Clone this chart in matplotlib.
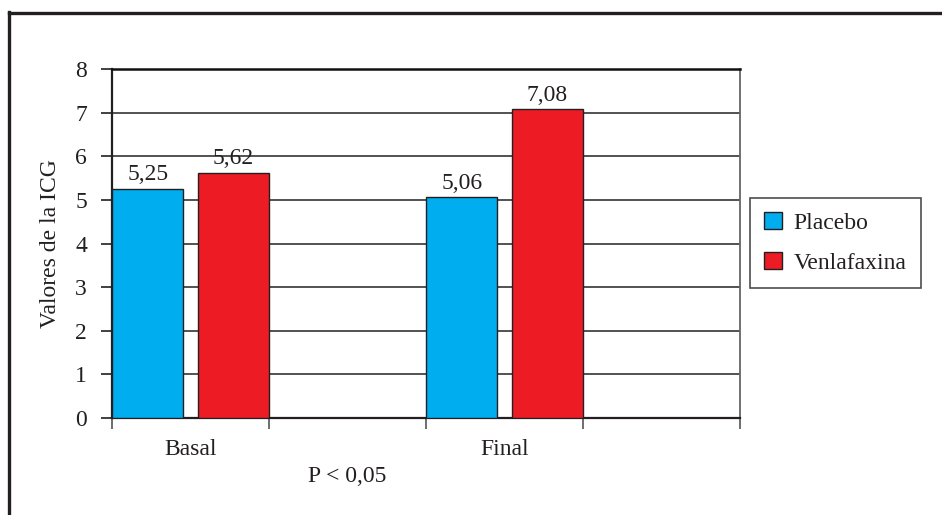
import matplotlib.pyplot as plt
from matplotlib.lines import Line2D

plt.rcParams['font.family'] = ['Liberation Serif', 'DejaVu Serif']

# data
groups = ['Basal', 'Final']
group_slots = [0, 2]
placebo = [5.25, 5.06]
venlafaxina = [5.62, 7.08]
slot_labels = ['Basal', 'P < 0,05', 'Final']
series_names = ['Placebo', 'Venlafaxina']
blue = '#00aeef'
red = '#ed1c24'
ink = '#231f20'
fs = 17

fig = plt.figure(figsize=(9.42, 5.15), dpi=100)
ax = fig.add_axes([112/942, 1-418/515, 628/942, 349/515])

w = 0.455
xs_p = [s + w/2 for s in group_slots]
xs_v = [s + 1 - w/2 for s in group_slots]
bp = ax.bar(xs_p, placebo, width=w, color=blue, edgecolor=ink, linewidth=1, zorder=3, label=series_names[0])
bv = ax.bar(xs_v, venlafaxina, width=w, color=red, edgecolor=ink, linewidth=1, zorder=3, label=series_names[1])

for x, v in list(zip(xs_p, placebo)) + list(zip(xs_v, venlafaxina)):
    ax.text(x, v + 0.08, f'{v:.2f}'.replace('.', ','), ha='center', va='bottom',
            fontsize=fs, color=ink)

ax.set_xlim(0, 4)
ax.set_ylim(0, 8)
ax.set_yticks(range(9))
ax.tick_params(axis='y', direction='out', length=8, width=1.2, color=ink,
               labelsize=fs, labelcolor=ink, pad=10)
ax.set_xticks(range(5))
ax.set_xticklabels([])
ax.tick_params(axis='x', direction='out', length=8, width=1.2, color='#555555')

# staggered category labels
for i, lab in enumerate(slot_labels):
    y = -0.72 if i % 2 == 0 else -1.35
    ax.text(i + 0.5, y, lab, ha='center', va='center', fontsize=fs, color=ink)

ax.yaxis.grid(True, color='#444444', linewidth=1.3, zorder=0)
ax.set_axisbelow(True)
for side in ['left', 'bottom']:
    ax.spines[side].set_color(ink)
    ax.spines[side].set_linewidth(1.6)
ax.spines['top'].set_color('#111111')
ax.spines['top'].set_linewidth(1.8)
ax.spines['right'].set_color('#666666')
ax.spines['right'].set_linewidth(1.3)

ax.set_ylabel('Valores de la ICG', fontsize=fs, color=ink, labelpad=10)

leg = fig.legend(handles=[bp, bv], loc='upper left',
                 bbox_to_anchor=(750/942, 1-198/515), frameon=True,
                 fontsize=fs, handlelength=0.75, handleheight=0.75,
                 handletextpad=0.5, labelspacing=0.75, borderpad=0.6,
                 borderaxespad=0, fancybox=False)
leg.get_frame().set_edgecolor(ink)
leg.get_frame().set_linewidth(1.2)
for t in leg.get_texts():
    t.set_color(ink)

# outer frame (left and top edges)
fig.add_artist(Line2D([9/942, 9/942], [0, 1-12/515], color=ink, linewidth=2.4,
                      transform=fig.transFigure))
fig.add_artist(Line2D([9/942, 1], [1-13/515, 1-13/515], color=ink, linewidth=2.4,
                      transform=fig.transFigure))

fig.savefig('out.png', dpi=100)
